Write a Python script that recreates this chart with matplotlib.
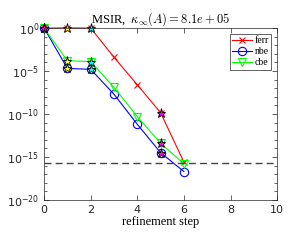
import matplotlib
matplotlib.use("Agg")
import matplotlib.pyplot as plt
import numpy as np
from matplotlib.ticker import NullFormatter, FixedLocator

steps = [0, 1, 2, 3, 4, 5, 6]
ferr = [1.0, 1.05, 1.0, 10**-3.4, 10**-6.6, 10**-9.85, 10**-15.6]
nbe = [1.0, 10**-4.7, 10**-4.8, 10**-7.7, 10**-11.2, 10**-14.5, 10**-16.7]
cbe = [1.0, 10**-3.8, 10**-3.9, 10**-6.9, 10**-10.3, 10**-13.4, 10**-15.8]
eps_line = 2.2e-16
star_steps = [0, 1, 2, 5]
star_colors = ["magenta", "yellow", "cyan", "magenta"]
title = r"MSIR,  $\kappa_\infty(A) = 8.1e+05$"
ytick_vals = [1e-20, 1e-15, 1e-10, 1e-5, 1e0]
ytick_labels = [r"$\mathregular{10^{-20}}$", r"$\mathregular{10^{-15}}$", r"$\mathregular{10^{-10}}$",
                r"$\mathregular{10^{-5}}$", r"$\mathregular{10^{0}}$"]

plt.rcParams["mathtext.fontset"] = "cm"
fig = plt.figure(figsize=(2.92, 2.40), dpi=100)
ax = fig.add_axes([0.151, 0.167, 0.798, 0.716])

ax.semilogy(steps, ferr, color="red", marker="x", lw=0.8, ms=5, mew=0.8, label="ferr", clip_on=False)
ax.semilogy(steps, nbe, color="blue", marker="o", lw=0.8, ms=6, mfc="none", mew=0.8, label="nbe", clip_on=False)
ax.semilogy(steps, cbe, color="#00ff00", marker="v", lw=0.8, ms=6, mfc="none", mew=0.8, label="cbe", clip_on=False)
ax.axhline(eps_line, color="#444444", ls=(0, (5, 3)), lw=1.0)

for series in (ferr, nbe, cbe):
    for s, c in zip(star_steps, star_colors):
        ax.plot(steps[s], series[s], marker="*", ms=6.5, mfc=c, mec="black", mew=0.6, ls="none", clip_on=False)

ax.set_xlim(0, 10)
ax.set_ylim(1e-20, 1e0)
ax.set_xticks([0, 2, 4, 6, 8, 10])
ax.yaxis.set_major_locator(FixedLocator(ytick_vals))
ax.yaxis.set_minor_locator(FixedLocator([10.0**k for k in range(-20, 1)]))
ax.yaxis.set_minor_formatter(NullFormatter())
ax.set_yticklabels(ytick_labels)
ax.tick_params(which="both", direction="in", top=True, right=True, labelsize=8, colors="#262626")
ax.tick_params(which="major", length=3.5, width=0.5)
ax.tick_params(which="minor", length=2, width=0.5)
for sp in ax.spines.values():
    sp.set_color("#262626")
    sp.set_linewidth(0.5)

ax.set_title(title, fontsize=9, family="Liberation Serif", pad=3)
ax.set_xlabel("refinement step", fontsize=9, family="Liberation Serif", labelpad=1)

leg = ax.legend(loc="upper right", prop={"family": "Liberation Serif", "size": 7},
                handlelength=2.0, borderpad=0.25, labelspacing=0.2, handletextpad=0.3,
                borderaxespad=0.6, fancybox=False, edgecolor="#262626", framealpha=1)
leg.get_frame().set_linewidth(0.5)

fig.savefig("out.png", dpi=100)
